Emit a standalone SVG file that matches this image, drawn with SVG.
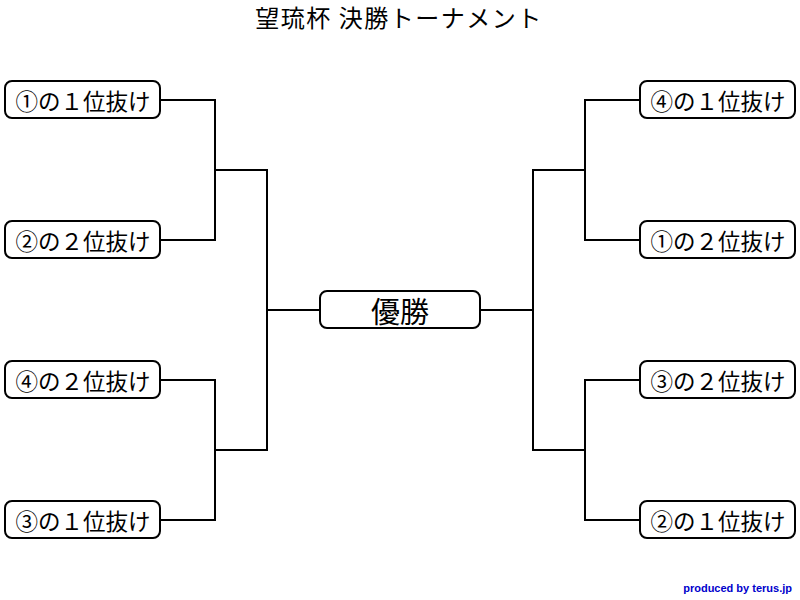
<svg xmlns="http://www.w3.org/2000/svg" width="800" height="600" viewBox="0 0 800 600">
<style>
.box{fill:#fff;stroke:#000;stroke-width:2}
.t{font-family:"Noto Sans CJK JP","Noto Sans",sans-serif;font-size:22.5px;fill:#000;text-anchor:middle;dominant-baseline:central}
.ln{fill:none;stroke:#000;stroke-width:2}
</style>
<rect width="800" height="600" fill="#fff"/>
<text x="399" y="16" class="t" style="font-size:24px;letter-spacing:1.5px">望琉杯 決勝トーナメント</text>
<g id="connectors">
<path class="ln" d="M160 100H215V240H160M215 170H267V450H215M160 380H215V520H160M267 310H320"/>
<path class="ln" d="M640 100H585V240H640M585 170H533V450H585M640 380H585V520H640M533 310H480"/>
</g>
<g id="L1"><rect class="box" x="5" y="81" width="155" height="37" rx="7"/><text class="t" x="83" y="100">①の１位抜け</text></g>
<g id="L2"><rect class="box" x="5" y="221" width="155" height="37" rx="7"/><text class="t" x="83" y="240">②の２位抜け</text></g>
<g id="L3"><rect class="box" x="5" y="361" width="155" height="37" rx="7"/><text class="t" x="83" y="380">④の２位抜け</text></g>
<g id="L4"><rect class="box" x="5" y="501" width="155" height="37" rx="7"/><text class="t" x="83" y="520">③の１位抜け</text></g>
<g id="R1"><rect class="box" x="640" y="81" width="155" height="37" rx="7"/><text class="t" x="718" y="100">④の１位抜け</text></g>
<g id="R2"><rect class="box" x="640" y="221" width="155" height="37" rx="7"/><text class="t" x="718" y="240">①の２位抜け</text></g>
<g id="R3"><rect class="box" x="640" y="361" width="155" height="37" rx="7"/><text class="t" x="718" y="380">③の２位抜け</text></g>
<g id="R4"><rect class="box" x="640" y="501" width="155" height="37" rx="7"/><text class="t" x="718" y="520">②の１位抜け</text></g>
<g id="final"><rect class="box" x="320" y="291" width="160" height="37" rx="7"/><text class="t" x="400" y="310" style="font-size:29px">優勝</text></g>
<text x="792" y="592" style="font-family:'Liberation Sans',Arial,sans-serif;font-size:11px;font-weight:bold;fill:#0000cc;text-anchor:end">produced by terus.jp</text>
</svg>
